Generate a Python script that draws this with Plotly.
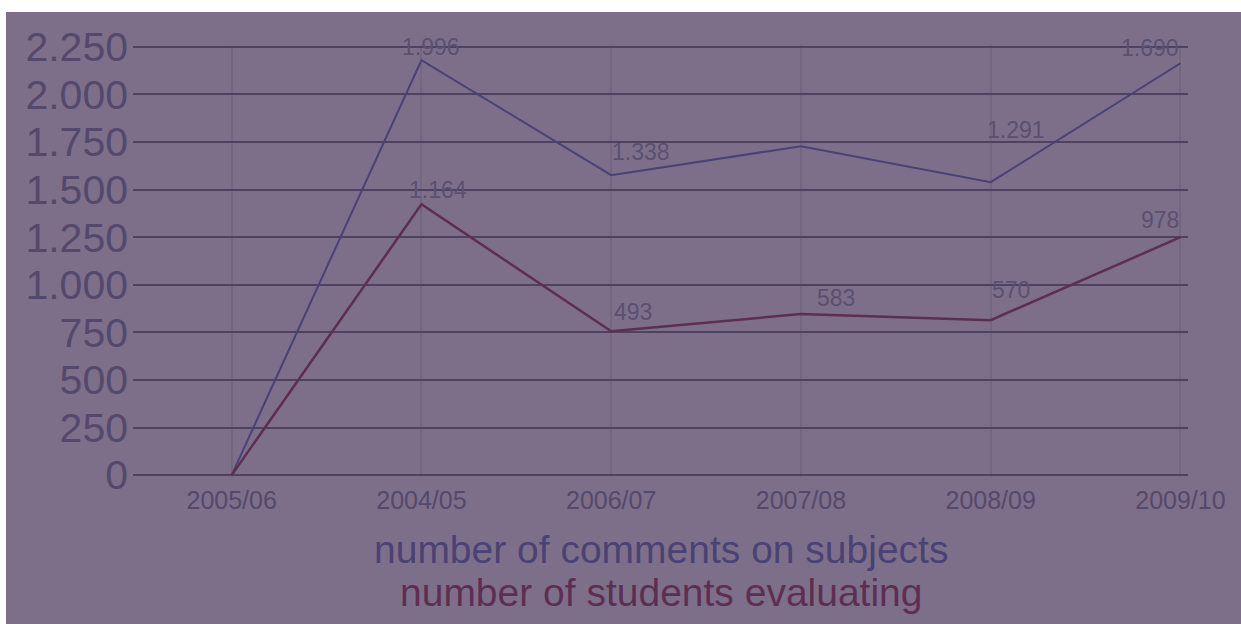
import plotly.graph_objects as go

# ---- data ----
years = ["2005/06", "2004/05", "2006/07", "2007/08", "2008/09", "2009/10"]
comments = [0, 2180, 1576, 1728, 1539, 2164]
students = [0, 1423, 756, 846, 814, 1250]
comment_labels = ["", "1.996", "1.338", "", "1.291", "1.690"]
student_labels = ["", "1.164", "493", "583", "570", "978"]
y_ticks = [0, 250, 500, 750, 1000, 1250, 1500, 1750, 2000, 2250]
legend_texts = ["number of comments on subjects", "number of students evaluating"]

# ---- style ----
BG = "#7d6f8a"
GRID = "#4f4260"
VGRID = "#73667f"
COMMENT_COLOR = "#4a4272"
STUDENT_COLOR = "#5c2f52"
TICK_COLOR = "#54496a"
LABEL_COLOR = "#5a5070"

W, H = 1241, 624
ML, MR, MT, MB = 133, 53, 45, 147

fig = go.Figure()
fig.add_trace(go.Scatter(x=years, y=comments, mode="lines",
                         line=dict(color=COMMENT_COLOR, width=2), hoverinfo="skip"))
fig.add_trace(go.Scatter(x=years, y=students, mode="lines",
                         line=dict(color=STUDENT_COLOR, width=2.5), hoverinfo="skip"))

# label offsets in pixels (xshift, yshift)
comment_off = [(0, 0), (10, 13), (30, 23), (0, 0), (25, 52), (-30, 15)]
student_off = [(0, 0), (17, 14), (22, 19), (35, 16), (20, 30), (-20, 17)]
lab_font = dict(family="Liberation Sans, Arial, sans-serif", size=23, color=LABEL_COLOR)
for xs, ys, labs, offs in [(years, comments, comment_labels, comment_off),
                           (years, students, student_labels, student_off)]:
    for x, y, t, (dx, dy) in zip(xs, ys, labs, offs):
        if t:
            fig.add_annotation(x=x, y=y, text=t, showarrow=False, xshift=dx, yshift=dy,
                               font=lab_font, xanchor="center", yanchor="middle")

# legend-like texts below
pw = W - ML - MR
ph = H - MT - MB
cx = (661 - ML) / pw
for i, (t, c) in enumerate(zip(legend_texts, [COMMENT_COLOR, STUDENT_COLOR])):
    ypx = 549 + i * 43
    fig.add_annotation(xref="paper", yref="paper", x=cx, y=1 - (ypx - MT) / ph,
                       text=t, showarrow=False, xanchor="center", yanchor="middle",
                       font=dict(family="Liberation Sans, Arial, sans-serif", size=39, color=c))

# white strips at top and left edge
fig.add_shape(type="rect", xref="paper", yref="paper", layer="above",
              x0=-ML / pw - 0.01, x1=(6 - ML) / pw, y0=-MB / ph - 0.01, y1=1 + MT / ph + 0.01,
              fillcolor="white", line=dict(width=0))
fig.add_shape(type="rect", xref="paper", yref="paper", layer="above",
              x0=-ML / pw - 0.01, x1=1 + MR / pw + 0.01, y0=1 + (MT - 12) / ph, y1=1 + MT / ph + 0.01,
              fillcolor="white", line=dict(width=0))

fig.update_layout(
    width=W, height=H,
    margin=dict(l=ML, r=MR, t=MT, b=MB),
    paper_bgcolor=BG, plot_bgcolor=BG,
    showlegend=False,
    separators=",.",
    xaxis=dict(type="category", range=[-0.52, 5.04], showgrid=True, gridcolor=VGRID,
               gridwidth=2, zeroline=False, showline=False, ticks="",
               tickfont=dict(family="Liberation Sans, Arial, sans-serif",
                             size=25, color=TICK_COLOR),
               ticklabelstandoff=6),
    yaxis=dict(range=[-10, 2260], tickvals=y_ticks, tickformat=",d", showgrid=True,
               gridcolor=GRID, gridwidth=2, zeroline=False, showline=False, ticks="",
               tickfont=dict(family="Liberation Sans, Arial, sans-serif", size=41, color=TICK_COLOR),
               ticklabelstandoff=4),
)

fig.write_html("out.html", config={"displayModeBar": False},
               post_script="document.body.style.margin='0';document.body.style.overflow='hidden';")
